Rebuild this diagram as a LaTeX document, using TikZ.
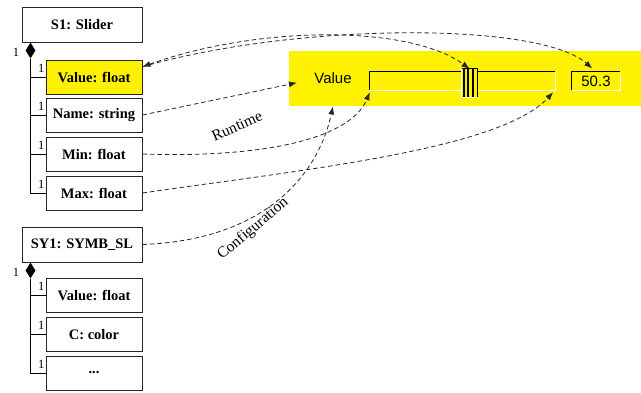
\documentclass[tikz,border=0pt]{standalone}
\usepackage{fontspec}
\setmainfont{Liberation Serif}
\newfontfamily\widgetfont{Liberation Sans}
\usetikzlibrary{arrows.meta,shapes.geometric,calc}

\begin{document}
\begin{tikzpicture}[x=1pt,y=-1pt,
  part/.style={draw=black!85, line width=0.9pt, fill=white, minimum width=96pt,
    minimum height=34pt, inner sep=0pt, font=\fontsize{14.5}{16}\selectfont\bfseries},
  whole/.style={part, minimum width=120pt, minimum height=35pt},
  owner/.style={diamond, fill=black, inner sep=0pt, minimum width=10pt, minimum height=16pt},
  mult/.style={font=\fontsize{12.5}{13}\selectfont, inner sep=1pt},
  agg/.style={draw=black, line width=0.8pt},
  tip/.style={-{Latex[length=8pt,width=6pt]}},
  link/.style={draw=black!85, line width=0.8pt, dash pattern=on 4.5pt off 3pt, tip},
  note/.style={font=\fontsize{15.5}{17}\selectfont, inner sep=0pt},
  wtext/.style={font=\widgetfont\fontsize{15}{16}\selectfont, inner sep=0pt},
  sunken/.style={inner sep=0pt, minimum height=18pt},
]
\useasboundingbox (0,0) rectangle (641,392);

% ---- slider object and its parts ----
\node[whole] (s1) at (82,24.5) {S1: Slider};
\node[owner] (d1) at (30.5,50.5) {};
\node[mult, anchor=east] (m0) at ([xshift=-5pt,yshift=-2pt]d1.west) {1};
\node[part, fill=yellow] (valf) at (94,77) {Value: float};
\node[part] (name) at (94,115) {Name: string};
\node[part] (min) at (94,154) {Min: float};
\node[part] (max) at (94,193) {Max: float};
\foreach \p/\m in {valf/m1, name/m2, min/m3, max/m4} {
  \draw[agg] (d1.south) |- (\p.west);
  \node[mult, anchor=south east] (\m) at ([yshift=3.5pt]\p.west) {1};
}

% ---- symbol object and its parts ----
\node[whole] (sy1) at (82,244.5) {SY1: SYMB\_SL};
\node[owner] (d2) at (30.5,270.5) {};
\node[mult, anchor=east] (n0) at ([xshift=-5pt,yshift=-2pt]d2.west) {1};
\node[part] (val2) at (94,295.5) {Value: float};
\node[part] (col) at (94,334.5) {C: color};
\node[part] (etc) at (94,373) {...};
\foreach \p/\m in {val2/n1, col/n2, etc/n3} {
  \draw[agg] (d2.south) |- (\p.west);
  \node[mult, anchor=south east] (\m) at ([yshift=3.5pt]\p.west) {1};
}

% ---- the slider widget ----
\node[fill=yellow, minimum width=352pt, minimum height=55pt, inner sep=0pt,
  anchor=north west] (panel) at (289,51) {};
\node[wtext] (vlabel) at (333,78) {Value};

\node[sunken, minimum width=185pt] (track) at (462.5,81) {};
\draw[white, line width=1pt] (track.south west) -| (track.north east);
\draw[black, line width=1.3pt] (track.south west) |- (track.north east);

\node[fill=yellow, inner sep=0pt, minimum width=15pt, minimum height=28pt] (thumb) at (469.5,83) {};
\foreach \dx in {2.5, 6.5, 11} {
  \draw[line width=2pt] ([xshift=\dx pt]thumb.north west) -- ([xshift=\dx pt]thumb.south west);
}
\draw[black, line width=0.9pt] (thumb.north west) -| (thumb.south east);
\draw[white, line width=0.9pt] (thumb.north west) |- (thumb.south east);

\node[sunken, wtext, minimum width=48pt, minimum height=18pt] (num) at (596,81) {50.3};
\draw[white, line width=1pt] (num.south west) -| (num.north east);
\draw[black, line width=1.3pt] (num.south west) |- (num.north east);

% ---- bindings ----
\draw[link, {Latex[length=8pt,width=6pt]}-{Latex[length=8pt,width=6pt]}]
  (valf.12) .. controls (260,25) and (410,25) .. (thumb.north);
\draw[link, shorten >=5pt] (valf.12) .. controls (300,22) and (540,22) .. (num.north);
\draw[link] (name.east) -- ([xshift=8pt,yshift=-4pt]panel.west);
\draw[link] (min.east) .. controls (260,158) and (350,140) .. ([yshift=-2pt]track.south west);
\draw[link] (max.east) .. controls (300,170) and (500,150) .. ([xshift=-2pt,yshift=-2pt]track.south east);
\draw[link] (sy1.east) .. controls (265,240) and (318,175) .. (vlabel |- panel.south);

\node[note, rotate=24] (rt) at (237,126) {Runtime};
\node[note, rotate=40] (cf) at (253,229) {Configuration};
\end{tikzpicture}
\end{document}
